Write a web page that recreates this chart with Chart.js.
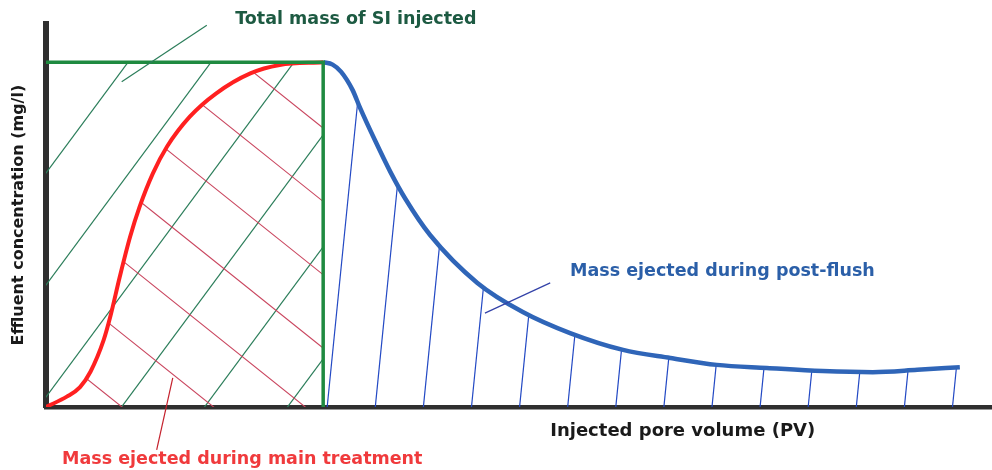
<!DOCTYPE html>
<html>
<head>
<meta charset="utf-8">
<title>Effluent concentration vs injected pore volume</title>
<script src="https://cdn.jsdelivr.net/npm/chart.js@4/dist/chart.umd.min.js"></script>
<style>
  html, body { margin: 0; padding: 0; background: #ffffff; }
  #wrap { width: 992px; height: 470px; position: relative; }
</style>
</head>
<body>
<div id="wrap"><canvas id="squeezeChart"></canvas></div>
<script>
// Schematic values (x: injected PV, y: concentration, arbitrary units)
const injectedEnd = 29.3;
const injectedConc = 90;

// Total mass injected: the green box
const totalPV = [0, injectedEnd, injectedEnd];
const totalConc = [injectedConc, injectedConc, 0];

// Red curve: returns during the main treatment
const mainPV = [0, 2.2, 3.6, 4.7, 6.1, 6.8, 7.8, 8.9, 9.9, 11.3, 12.8, 15.2, 18.0, 21.6, 24.7, 29.3];
const mainConc = [0, 2.7, 5.2, 9.2, 17.5, 23.6, 34.0, 44.5, 52.3, 61.0, 68.0, 75.8, 81.9, 87.1, 89.3, 90];

// Blue curve: returns during the post-flush
const postPV = [29.3, 30.3, 31.2, 32.4, 33.2, 34.8, 36.4, 38.0, 40.6, 45.6, 50.4, 55.4, 61.0, 66.0, 70.9, 76.2, 82.1, 87.4, 92.1, 96.6];
const postConc = [90, 89.4, 87.5, 82.8, 78.1, 69.5, 61.4, 54.3, 44.9, 32.4, 24.8, 19.3, 14.9, 12.8, 11.0, 10.2, 9.4, 9.1, 9.7, 10.4];

// Texts
const yTitle = 'Effluent concentration (mg/l)';
const xTitle = 'Injected pore volume (PV)';
const totalLabel = 'Total mass of SI injected';
const mainLabel = 'Mass ejected during main treatment';
const postLabel = 'Mass ejected during post-flush';

const toPoints = (xs, ys) => xs.map((x, i) => ({ x: x, y: ys[i] }));

// Hatching under the curves, drawn before the curves themselves
const hatchPlugin = {
  id: 'hatch',
  beforeDatasetsDraw(chart) {
    const ctx = chart.ctx;
    const xs = chart.scales.x, ys = chart.scales.y;
    const area = chart.chartArea;
    const ox = xs.getPixelForValue(0), oy = ys.getPixelForValue(0);

    // green: everything injected (the box)
    ctx.save();
    ctx.beginPath();
    ctx.rect(ox, ys.getPixelForValue(injectedConc), xs.getPixelForValue(injectedEnd) - ox, oy - ys.getPixelForValue(injectedConc));
    ctx.clip();
    ctx.strokeStyle = '#2b7d5a';
    ctx.lineWidth = 1.2;
    const gs = 1.35, gStep = 112, gPhase = -10;
    for (let k = -2; k <= 6; k++) {
      const c = oy + gs * ox + gPhase + k * gStep;
      ctx.beginPath();
      ctx.moveTo(area.left - 100, c - gs * (area.left - 100));
      ctx.lineTo(area.right, c - gs * area.right);
      ctx.stroke();
    }
    ctx.restore();

    // red: under the main treatment curve
    const mainMeta = chart.getDatasetMeta(1);
    mainMeta.dataset.updateControlPoints(area, 'x');
    ctx.save();
    ctx.beginPath();
    mainMeta.dataset.path(ctx);
    ctx.lineTo(xs.getPixelForValue(injectedEnd), oy);
    ctx.closePath();
    ctx.clip();
    ctx.strokeStyle = '#c9455e';
    ctx.lineWidth = 1.1;
    const rs = 0.8, rStep = 73.3, rPhase = 12.5;
    for (let k = -10; k <= 10; k++) {
      const c = oy - rs * ox + rPhase + k * rStep;
      ctx.beginPath();
      ctx.moveTo(area.left - 100, c + rs * (area.left - 100));
      ctx.lineTo(area.right, c + rs * area.right);
      ctx.stroke();
    }
    ctx.restore();

    // blue: under the post-flush curve, slightly leaning strokes
    const postMeta = chart.getDatasetMeta(2);
    postMeta.dataset.updateControlPoints(area, 'x');
    ctx.save();
    ctx.beginPath();
    postMeta.dataset.path(ctx);
    ctx.lineTo(xs.getPixelForValue(postPV[postPV.length - 1]), oy);
    ctx.lineTo(xs.getPixelForValue(postPV[0]), oy);
    ctx.closePath();
    ctx.clip();
    ctx.strokeStyle = '#2349c4';
    ctx.lineWidth = 1.2;
    const lean = 0.1, bStep = 48.1;
    const bStart = xs.getPixelForValue(injectedEnd) + 4;
    for (let k = 0; k < 20; k++) {
      const x0 = bStart + k * bStep;
      ctx.beginPath();
      ctx.moveTo(x0, oy);
      ctx.lineTo(x0 + lean * (oy - area.top), area.top);
      ctx.stroke();
    }
    ctx.restore();
  }
};

// Titles, labels and their leader lines
const labelPlugin = {
  id: 'labels',
  afterDraw(chart) {
    const ctx = chart.ctx;
    const xs = chart.scales.x, ys = chart.scales.y;
    const px = v => xs.getPixelForValue(v), py = v => ys.getPixelForValue(v);

    const leader = (x1, y1, x2, y2, color) => {
      ctx.beginPath();
      ctx.moveTo(px(x1), py(y1));
      ctx.lineTo(px(x2), py(y2));
      ctx.strokeStyle = color;
      ctx.lineWidth = 1.2;
      ctx.stroke();
    };
    ctx.save();
    leader(8.0, 84.9, 17.0, 99.7, '#2b7d5a');
    leader(13.4, 7.6, 11.7, -11.2, '#c4202c');
    leader(46.4, 24.5, 53.3, 32.4, '#3342a8');

    ctx.font = 'bold 17.5px "DejaVu Sans"';
    ctx.textBaseline = 'middle';
    ctx.textAlign = 'left';
    ctx.fillStyle = '#1d5a42';
    ctx.fillText(totalLabel, px(20.0), py(101.1));
    ctx.fillStyle = '#f03a3c';
    ctx.fillText(mainLabel, px(1.7), py(-13.8));
    ctx.fillStyle = '#2b5fa8';
    ctx.fillText(postLabel, px(55.4), py(35.5));
    ctx.fillStyle = '#1a1a1a';
    ctx.font = 'bold 18px "DejaVu Sans"';
    ctx.fillText(xTitle, px(53.3), py(-6.3));

    ctx.font = 'bold 16px "DejaVu Sans"';
    ctx.translate(px(-2.85), py(50.1));
    ctx.rotate(-Math.PI / 2);
    ctx.textAlign = 'center';
    ctx.fillText(yTitle, 0, 0);
    ctx.restore();
  }
};

document.addEventListener('DOMContentLoaded', function() {
  const ctx = document.getElementById('squeezeChart').getContext('2d');
  new Chart(ctx, {
    type: 'line',
    data: {
      datasets: [
        {
          label: totalLabel,
          data: toPoints(totalPV, totalConc),
          borderColor: '#1f8a40',
          borderWidth: 3.5,
          tension: 0,
          pointRadius: 0,
          order: 0
        },
        {
          label: mainLabel,
          data: toPoints(mainPV, mainConc),
          borderColor: '#ff2020',
          borderWidth: 4,
          cubicInterpolationMode: 'monotone',
          pointRadius: 0,
          order: 1
        },
        {
          label: postLabel,
          data: toPoints(postPV, postConc),
          borderColor: '#2f65b8',
          borderWidth: 4.5,
          cubicInterpolationMode: 'monotone',
          pointRadius: 0,
          order: 2
        }
      ]
    },
    options: {
      responsive: true,
      maintainAspectRatio: false,
      devicePixelRatio: 1,
      animation: false,
      layout: { padding: { left: 46, right: 0, top: 24, bottom: 63 } },
      plugins: { legend: { display: false }, tooltip: { enabled: false } },
      scales: {
        x: {
          type: 'linear', min: 0, max: 100,
          grid: { display: false, drawTicks: false },
          ticks: { display: false },
          border: { color: '#2f2f2f', width: 4.5 }
        },
        y: {
          type: 'linear', min: 0, max: 100,
          grid: { display: false, drawTicks: false },
          ticks: { display: false },
          border: { color: '#2f2f2f', width: 6 }
        }
      }
    },
    plugins: [hatchPlugin, labelPlugin]
  });
});
</script>
</body>
</html>
